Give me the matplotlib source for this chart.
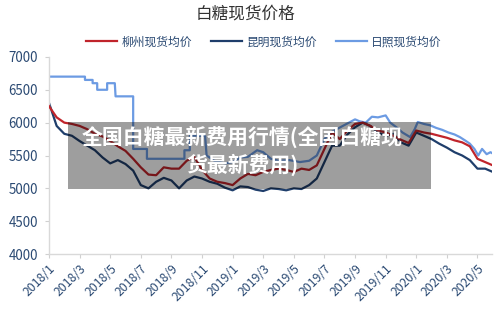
import numpy as np
import matplotlib
matplotlib.use("Agg")
import matplotlib.pyplot as plt
from matplotlib.patches import Rectangle

plt.rcParams['font.family'] = ['Noto Sans CJK SC', 'DejaVu Sans']

# months since 2018/1
grid = np.arange(0, 29.01, 0.5)

liuzhou = [6250, 6080, 6000, 5980, 5950, 5900, 5830, 5790, 5720, 5640,
           5570, 5450, 5320, 5210, 5200, 5320, 5300, 5300, 5420, 5480,
           5280, 5150, 5100, 5080, 5050, 5150, 5220, 5200, 5250, 5280,
           5300, 5280, 5250, 5300, 5280, 5350, 5600, 5850, 5750, 5880,
           5980, 6000, 5950, 5880, 5850, 5800, 5740, 5690, 5880, 5850,
           5830, 5800, 5770, 5730, 5700, 5640, 5450, 5400, 5350]

kunming = [6300, 5950, 5830, 5800, 5720, 5650, 5580, 5470, 5380, 5430,
           5370, 5270, 5050, 5000, 5100, 5160, 5120, 5000, 5120, 5180,
           5150, 5100, 5070, 5010, 4970, 5030, 5020, 4980, 4960, 5000,
           4990, 4970, 5000, 4990, 5050, 5150, 5400, 5650, 5650, 5820,
           5930, 6000, 5950, 5850, 5800, 5830, 5700, 5650, 5850, 5800,
           5750, 5680, 5620, 5550, 5500, 5430, 5300, 5300, 5250]

rizhao_x = [0, 2.35, 2.35, 2.85, 2.85, 3.15, 3.15, 3.8, 3.8, 4.3, 4.35, 5.5,
            5.5, 6.4, 6.4, 8.85, 8.85, 9.2, 9.2, 10.2, 10.3, 10.8, 11.5, 12,
            12.5, 13, 13.6, 14, 14.5, 15, 15.7, 16.4, 17, 17.5, 18, 18.4,
            18.8, 19.2, 19.6, 20, 20.3, 20.7, 21.1, 21.5, 22, 22.3, 22.7,
            23.1, 23.6, 23.9, 24.1, 24.5, 24.9, 25.3, 25.7, 26.1, 26.5,
            26.85, 27.25, 27.5, 27.8, 28.05, 28.3, 28.6, 28.85, 29]
rizhao = [6700, 6700, 6650, 6650, 6600, 6600, 6500, 6500, 6600, 6600, 6400,
          6400, 5600, 5600, 5450, 5450, 5580, 5580, 5800, 5800, 5500, 5420,
          5380, 5400, 5470, 5480, 5580, 5550, 5450, 5420, 5430, 5400, 5420,
          5500, 5750, 5850, 5900, 5950, 6000, 6050, 6020, 6000, 6090, 6080,
          6110, 6000, 5930, 5850, 5780, 5900, 6010, 5980, 5960, 5920, 5890,
          5850, 5820, 5780, 5720, 5680, 5600, 5500, 5600, 5520, 5550, 5530]

tick_pos = list(range(0, 29, 2))
tick_labels = ["2018/1", "2018/3", "2018/5", "2018/7", "2018/9", "2018/11",
               "2019/1", "2019/3", "2019/5", "2019/7", "2019/9", "2019/11",
               "2020/1", "2020/3", "2020/5"]

fig = plt.figure(figsize=(5, 3.11), dpi=100)
ax = fig.add_axes([0.098, 0.183, 0.886, 0.634])

ax.plot(grid, liuzhou, color="#C0242B", lw=1.6, label="柳州现货均价", zorder=3)
ax.plot(grid, kunming, color="#1F3E6B", lw=1.6, label="昆明现货均价", zorder=2)
ax.plot(rizhao_x, rizhao, color="#6C9BE3", lw=1.6, label="日照现货均价", zorder=1)

ax.set_xlim(0, 28.95)
ax.set_ylim(4000, 7000)
ax.set_yticks(range(4000, 7001, 500))
ax.set_xticks(tick_pos)
ax.set_xticklabels(tick_labels, rotation=45, ha="right", rotation_mode="anchor")

txtc = "#2B4A73"
ax.tick_params(axis="both", colors="#D0D0D0", labelcolor=txtc, length=3, width=0.8)
ax.tick_params(axis="y", labelsize=9.6, pad=5)
ax.tick_params(axis="x", labelsize=8.8, pad=3)
for s in ["top", "right"]:
    ax.spines[s].set_visible(False)
for s in ["left", "bottom"]:
    ax.spines[s].set_color("#D9D9D9")
    ax.spines[s].set_linewidth(1)

fig.text(0.49, 0.955, "白糖现货价格", ha="center", va="center", fontsize=12, color="#333333")
fig.legend(loc="center", bbox_to_anchor=(0.528, 0.865), ncol=3, frameon=False,
           fontsize=8.5, handlelength=2.6, columnspacing=1.6, handletextpad=0.4,
           labelcolor=txtc)

# overlay caption box
fig.patches.append(Rectangle((0.136, 0.392), 0.726, 0.216, transform=fig.transFigure,
                             facecolor="black", alpha=0.38, edgecolor="none", zorder=10))
fig.text(0.484, 0.515, "全国白糖最新费用行情(全国白糖现\n货最新费用)", ha="center", va="center",
         fontsize=15, fontweight="bold", color="white", linespacing=1.3, zorder=11)

fig.savefig("out.png", dpi=100)
